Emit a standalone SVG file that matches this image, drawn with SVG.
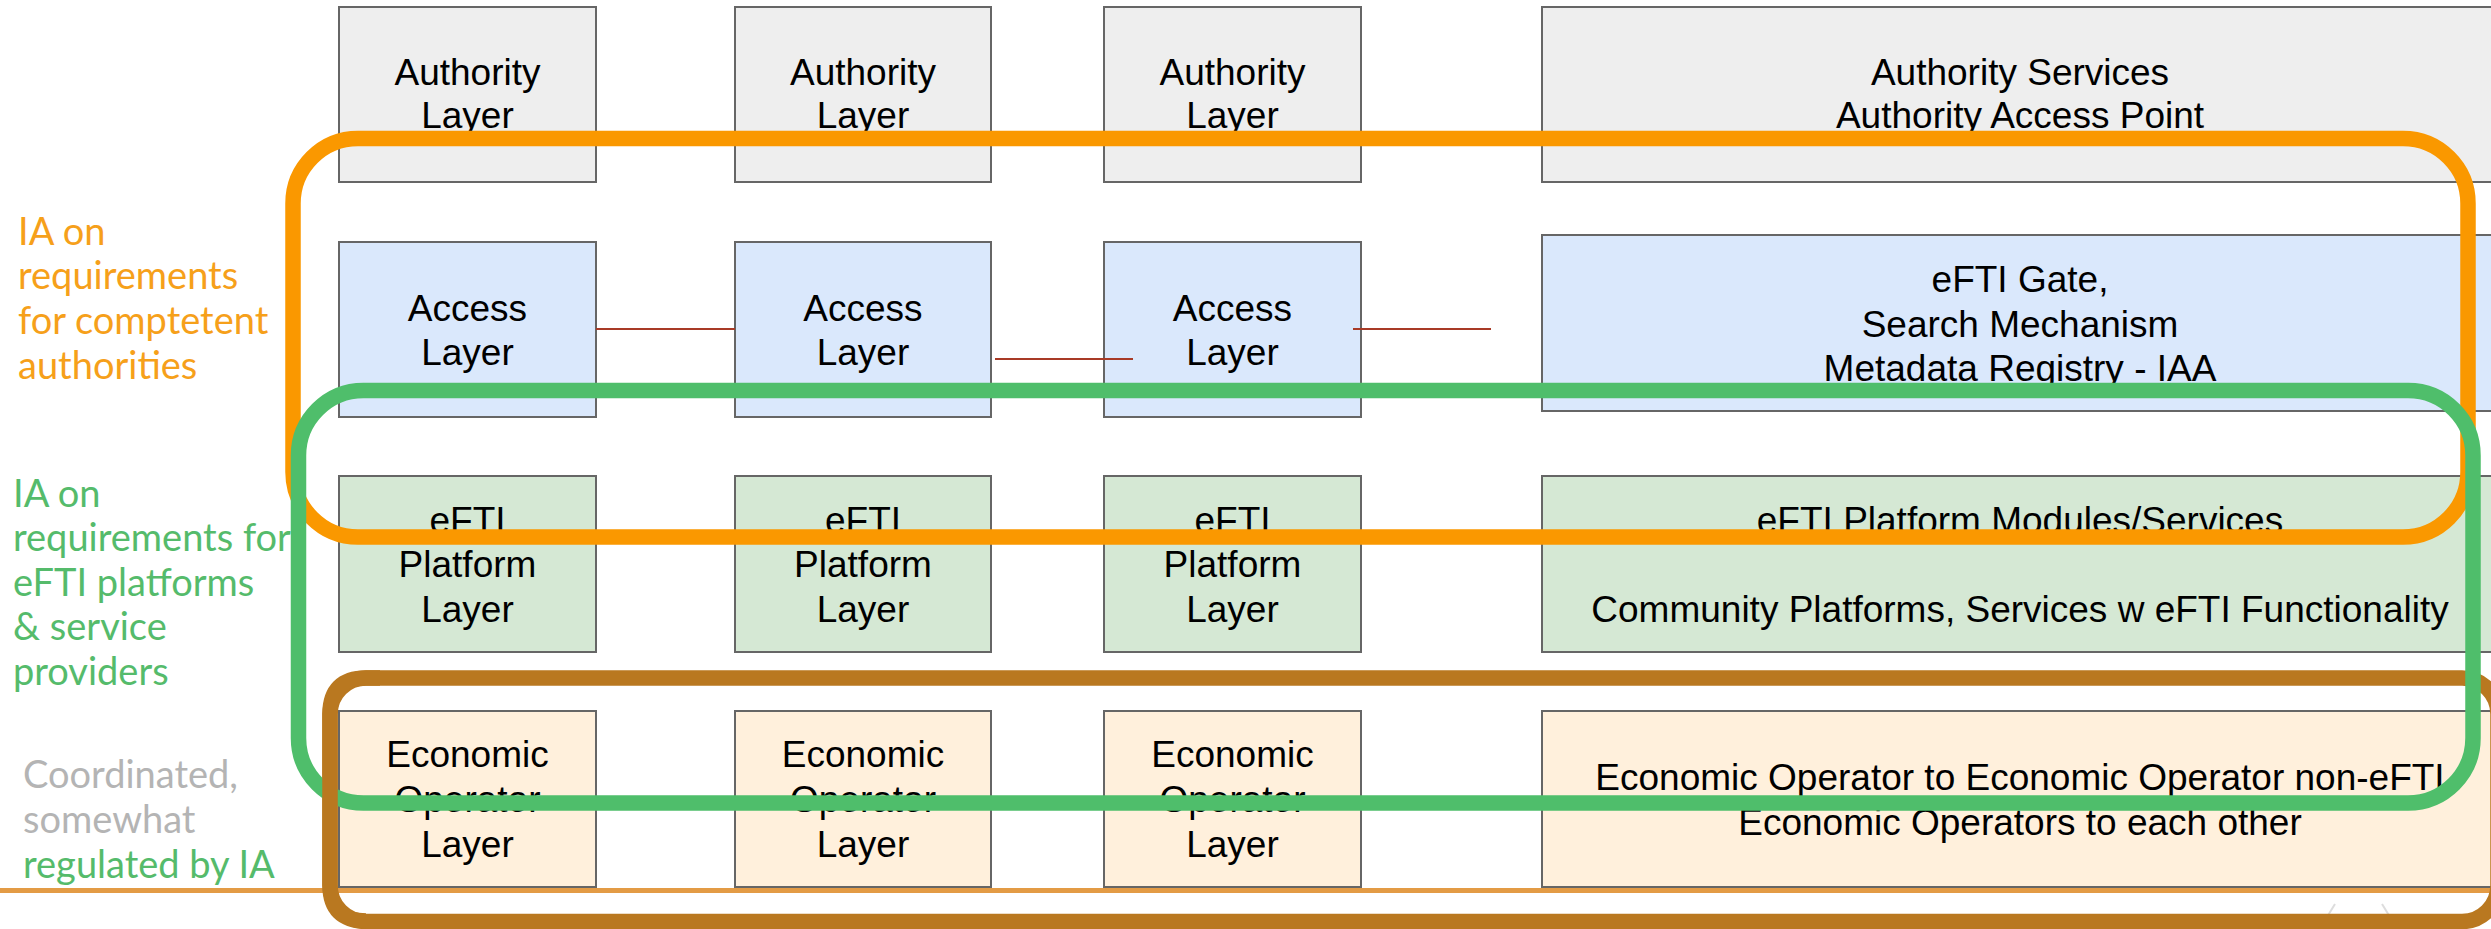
<svg xmlns="http://www.w3.org/2000/svg" width="2491" height="929" viewBox="0 0 2491 929">
<style>
.box{stroke:#666666;stroke-width:2}
.auth{fill:#EEEEEE}
.acc{fill:#DAE8FC}
.plat{fill:#D5E8D4}
.eco{fill:#FFF0DC}
.t{font-family:"Liberation Sans",Arial,sans-serif;font-size:37px;fill:#000000;text-anchor:middle}
.side{font-family:Lato,"Open Sans",sans-serif;font-size:38px}
.conn{stroke:#A83A26;stroke-width:2.2;fill:none}
.loop{fill:none;stroke-width:15.5}
</style>
<rect width="2491" height="929" fill="#FFFFFF"/>

<g id="side-labels">
<text class="side" fill="#F6A01A"><tspan x="18" y="245">IA on</tspan><tspan x="18" y="289">requirements</tspan><tspan x="18" y="334">for comptetent</tspan><tspan x="18" y="379">authorities</tspan></text>
<text class="side" fill="#55BB6B"><tspan x="13" y="507">IA on</tspan><tspan x="13" y="551">requirements for</tspan><tspan x="13" y="596">eFTI platforms</tspan><tspan x="13" y="640">&amp; service</tspan><tspan x="13" y="685">providers</tspan></text>
<text class="side"><tspan x="23" y="788" fill="#B4B4B4">Coordinated,</tspan><tspan x="23" y="833" fill="#B4B4B4">somewhat</tspan><tspan x="23" y="878" fill="#55BB6B">regulated by IA</tspan></text>
</g>

<g id="authority-1"><rect class="box auth" x="339" y="7" width="257" height="175"/><text class="t"><tspan x="467.5" y="85">Authority</tspan><tspan x="467.5" y="128">Layer</tspan></text></g>
<g id="authority-2"><rect class="box auth" x="735" y="7" width="256" height="175"/><text class="t"><tspan x="863" y="85">Authority</tspan><tspan x="863" y="128">Layer</tspan></text></g>
<g id="authority-3"><rect class="box auth" x="1104" y="7" width="257" height="175"/><text class="t"><tspan x="1232.5" y="85">Authority</tspan><tspan x="1232.5" y="128">Layer</tspan></text></g>
<g id="authority-4"><rect class="box auth" x="1542" y="7" width="956" height="175"/><text class="t"><tspan x="2020" y="85">Authority Services</tspan><tspan x="2020" y="128">Authority Access Point</tspan></text></g>

<g id="access-1"><rect class="box acc" x="339" y="242" width="257" height="175"/><text class="t"><tspan x="467.5" y="321">Access</tspan><tspan x="467.5" y="365">Layer</tspan></text></g>
<g id="access-2"><rect class="box acc" x="735" y="242" width="256" height="175"/><text class="t"><tspan x="863" y="321">Access</tspan><tspan x="863" y="365">Layer</tspan></text></g>
<g id="access-3"><rect class="box acc" x="1104" y="242" width="257" height="175"/><text class="t"><tspan x="1232.5" y="321">Access</tspan><tspan x="1232.5" y="365">Layer</tspan></text></g>
<g id="access-4"><rect class="box acc" x="1542" y="235" width="956" height="176"/><text class="t"><tspan x="2020" y="292">eFTI Gate,</tspan><tspan x="2020" y="337">Search Mechanism</tspan><tspan x="2020" y="381">Metadata Registry - IAA</tspan></text></g>

<g id="platform-1"><rect class="box plat" x="339" y="476" width="257" height="176"/><text class="t"><tspan x="467.5" y="533">eFTI</tspan><tspan x="467.5" y="577">Platform</tspan><tspan x="467.5" y="622">Layer</tspan></text></g>
<g id="platform-2"><rect class="box plat" x="735" y="476" width="256" height="176"/><text class="t"><tspan x="863" y="533">eFTI</tspan><tspan x="863" y="577">Platform</tspan><tspan x="863" y="622">Layer</tspan></text></g>
<g id="platform-3"><rect class="box plat" x="1104" y="476" width="257" height="176"/><text class="t"><tspan x="1232.5" y="533">eFTI</tspan><tspan x="1232.5" y="577">Platform</tspan><tspan x="1232.5" y="622">Layer</tspan></text></g>
<g id="platform-4"><rect class="box plat" x="1542" y="476" width="956" height="176"/><text class="t"><tspan x="2020" y="533">eFTI Platform Modules/Services</tspan><tspan x="2020" y="622">Community Platforms, Services w eFTI Functionality</tspan></text></g>

<g id="economic-1"><rect class="box eco" x="339" y="711" width="257" height="176"/><text class="t"><tspan x="467.5" y="767">Economic</tspan><tspan x="467.5" y="812">Operator</tspan><tspan x="467.5" y="857">Layer</tspan></text></g>
<g id="economic-2"><rect class="box eco" x="735" y="711" width="256" height="176"/><text class="t"><tspan x="863" y="767">Economic</tspan><tspan x="863" y="812">Operator</tspan><tspan x="863" y="857">Layer</tspan></text></g>
<g id="economic-3"><rect class="box eco" x="1104" y="711" width="257" height="176"/><text class="t"><tspan x="1232.5" y="767">Economic</tspan><tspan x="1232.5" y="812">Operator</tspan><tspan x="1232.5" y="857">Layer</tspan></text></g>
<g id="economic-4"><rect class="box eco" x="1542" y="711" width="956" height="176"/><text class="t"><tspan x="2020" y="790">Economic Operator to Economic Operator non-eFTI</tspan><tspan x="2020" y="835">Economic Operators to each other</tspan></text></g>

<g id="connectors">
<line class="conn" x1="596" y1="329" x2="735" y2="329"/>
<line class="conn" x1="995" y1="359" x2="1133" y2="359"/>
<line class="conn" x1="1353" y1="329" x2="1491" y2="329"/>
</g>

<g id="baseline">
<line x1="0" y1="890.5" x2="2491" y2="890.5" stroke="#E39B45" stroke-width="5"/>
<path d="M2327 917 L2335 904 M2382 904 L2390 917" stroke="#DDDDDD" stroke-width="2" fill="none"/>
</g>

<g id="groupings">
<rect class="loop" x="293" y="138.5" width="2175" height="398.5" rx="65" stroke="#FA9800"/>
<rect class="loop" x="330" y="678" width="2168" height="243.5" rx="36" stroke="#B97820"/>
<rect class="loop" x="298.5" y="390.5" width="2174.5" height="412.5" rx="65" stroke="#4FBE6B"/>
<path class="loop" d="M330 760 L330 714 Q330 678 366 678 L380 678 M330 760 L330 885 Q330 921 366 921" stroke="#B97820"/>
</g>
</svg>
